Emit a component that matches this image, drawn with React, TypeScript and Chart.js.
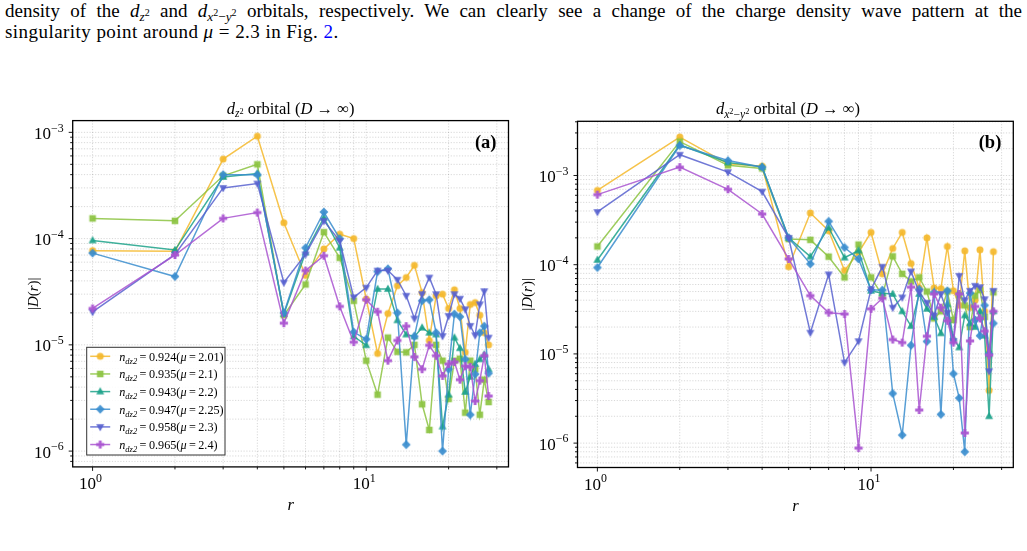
import React, { useEffect, useRef } from "react";
import { Chart, registerables } from "chart.js";

Chart.register(...registerables);

// lattice distance r (sites)
const rValues = [1, 2, 3, 4, 5, 6, 7, 8, 9, 10, 11, 12, 13, 14, 15, 16, 17, 18, 19, 20, 21, 22, 23, 24, 25, 26, 27, 28];

// |D(r)| for the d_{z^2} orbital, one list per chemical potential
const dz2Mu201 = [7.7e-5, 7.6e-5, 5.6e-4, 9.2e-4, 1.41e-4, 4.5e-5, 8.0e-5, 1.1e-4, 1.0e-4, 2.7e-5, 8.3e-6, 1.97e-5, 3.6e-5, 4.3e-5, 5.6e-5, 3.1e-5, 1.1e-5, 2.9e-5, 3.0e-5, 2.2e-5, 3.3e-5, 2.2e-5, 8.5e-6, 2.4e-5, 2.5e-5, 1.9e-5, 1.3e-5, 1.0e-5];
const dz2Mu210 = [1.55e-4, 1.47e-4, 3.9e-4, 5.0e-4, 1.9e-5, 3.7e-5, 1.15e-4, 6.6e-5, 2.6e-5, 7.1e-6, 3.4e-6, 1.17e-5, 8.6e-6, 8.5e-6, 1.0e-5, 2.76e-6, 1.58e-6, 1.0e-5, 7.1e-6, 3.1e-6, 7.1e-6, 7.4e-6, 2.3e-6, 7.1e-6, 5.9e-6, 2.2e-6, 4.7e-6, 2.9e-6];
const dz2Mu220 = [9.6e-5, 7.8e-5, 3.8e-4, 4.1e-4, 1.95e-5, 7.4e-5, 1.57e-4, 8.2e-5, 1.2e-5, 9.9e-6, 3.35e-5, 3.35e-5, 1.7e-5, 1.25e-5, 1.2e-5, 1.45e-5, 1.3e-5, 1.25e-5, 1.7e-6, 3.4e-6, 1.17e-5, 9.3e-6, 3.6e-6, 5.0e-6, 6.6e-6, 7.3e-6, 8.1e-6, 5.9e-6];
const dz2Mu225 = [7.3e-5, 4.4e-5, 4.0e-4, 4.0e-4, 2.0e-5, 8.2e-5, 1.78e-4, 1.0e-4, 1.32e-5, 1.13e-5, 4.9e-5, 5.2e-5, 2.0e-5, 1.15e-6, 1.2e-5, 2.6e-5, 2.66e-5, 1.3e-5, 1.0e-6, 5.9e-6, 1.95e-5, 1.84e-5, 7.3e-6, 2.2e-6, 5.3e-6, 1.3e-5, 1.5e-5, 5.4e-6];
const dz2Mu230 = [2.04e-5, 7.1e-5, 3.0e-4, 3.3e-4, 3.86e-5, 7.1e-5, 1.47e-4, 9.5e-5, 2.8e-5, 3.46e-5, 5.0e-5, 5.0e-5, 4.1e-5, 2.9e-5, 1.77e-5, 3.0e-5, 4.3e-5, 3.0e-5, 1.21e-5, 1.87e-5, 3.0e-5, 2.72e-5, 2.16e-5, 1.51e-5, 1.23e-5, 2.41e-5, 3.2e-5, 1.17e-5];
const dz2Mu240 = [2.2e-5, 7.0e-5, 1.55e-4, 1.76e-4, 1.6e-5, 5.0e-5, 6.9e-5, 2.3e-5, 1.06e-5, 2.66e-5, 2.05e-5, 7.1e-6, 1.1e-5, 1.5e-5, 7.7e-6, 5.9e-6, 9.9e-6, 7.9e-6, 5.1e-6, 6.6e-6, 6.9e-6, 4.7e-6, 6.3e-6, 6.2e-6, 2.96e-6, 4.6e-6, 7.9e-6, 3.3e-6];

// |D(r)| for the d_{x^2-y^2} orbital
const dx2Mu201 = [6.8e-4, 2.7e-3, 1.35e-3, 1.27e-3, 9.5e-5, 3.8e-4, 2.4e-4, 8.6e-5, 1.37e-4, 2.3e-4, 7.9e-5, 1.52e-4, 2.3e-4, 1.03e-4, 5.5e-5, 2.0e-4, 5.5e-5, 5.4e-5, 1.6e-4, 5.1e-5, 3.5e-5, 1.43e-4, 3.3e-5, 4.0e-5, 1.47e-4, 3.0e-5, 3.9e-6, 1.4e-4];
const dx2Mu210 = [1.6e-4, 2.4e-3, 1.3e-3, 1.2e-3, 1.94e-4, 1.9e-4, 1.23e-4, 7.2e-5, 1.68e-4, 7.2e-5, 4.5e-5, 1.24e-4, 7.9e-5, 6.5e-5, 7.2e-5, 5.0e-5, 2.5e-5, 3.0e-5, 5.0e-5, 2.4e-5, 4.6e-5, 3.5e-5, 2.0e-5, 4.5e-5, 5.2e-5, 2.6e-5, 1.0e-5, 4.9e-5];
const dx2Mu220 = [1.13e-4, 2.2e-3, 1.4e-3, 1.25e-3, 2.0e-4, 1.23e-4, 2.6e-4, 1.2e-4, 1.44e-4, 5.1e-5, 4.8e-5, 4.7e-5, 3.0e-5, 2.05e-5, 4.7e-5, 3.2e-5, 2.6e-5, 1.7e-5, 3.6e-5, 1.5e-5, 1.18e-5, 2.7e-5, 2.2e-5, 2.0e-5, 3.0e-5, 1.6e-5, 2.0e-6, 3.0e-5];
const dx2Mu225 = [9.3e-5, 2.17e-3, 1.47e-3, 1.24e-3, 2.0e-4, 1.02e-4, 3.06e-4, 1.56e-4, 1.16e-4, 5.2e-5, 5.2e-5, 3.6e-6, 1.23e-6, 1.25e-5, 5.3e-5, 1.38e-5, 4.9e-5, 2.1e-6, 5.1e-5, 6.0e-6, 3.2e-6, 8.0e-7, 4.8e-5, 2.4e-5, 1.6e-5, 3.5e-5, 1.0e-5, 2.2e-5];
const dx2Mu230 = [3.9e-4, 1.71e-3, 1.09e-3, 6.6e-4, 2.0e-4, 1.73e-5, 7.8e-5, 8.0e-6, 1.39e-5, 5.3e-5, 9.5e-5, 3.3e-5, 4.3e-5, 8.4e-5, 4.9e-5, 3.75e-5, 2.7e-5, 4.7e-5, 2.9e-5, 1.4e-5, 7.5e-5, 4.0e-5, 5.1e-5, 5.8e-5, 5.6e-5, 4.1e-5, 6.4e-6, 5.1e-5];
const dx2Mu240 = [6.1e-4, 1.24e-3, 7.0e-4, 3.7e-4, 1.16e-4, 4.5e-5, 2.9e-5, 2.8e-5, 8.8e-7, 3.2e-5, 4.2e-5, 1.45e-5, 1.34e-5, 5.6e-5, 2.35e-6, 1.58e-5, 4.7e-5, 3.3e-5, 2.35e-5, 1.34e-5, 4.7e-5, 1.3e-6, 1.4e-5, 3.4e-5, 2.5e-5, 1.8e-5, 9.7e-6, 3.0e-5];

// legend text pieces
const fillingLabels = ["0.924", "0.935", "0.943", "0.947", "0.958", "0.965"];
const muLabels = ["2.01", "2.1", "2.2", "2.25", "2.3", "2.4"];

const seriesColors = ["#F4B82C", "#8CC341", "#1CA28A", "#398DCE", "#5862CF", "#A954D0"];
const markerShapes = ["circle", "square", "triangleUp", "diamond", "triangleDown", "plus"];

// axis limits and tick positions
const xRange: [number, number] = [0.846, 33.1];
const yRangeZ2: [number, number] = [7.1e-7, 1.29e-3];
const yRangeX2Y2: [number, number] = [5.33e-7, 4.05e-3];
const xMajorTicks = [1, 10];
const xMinorTicks = [2, 3, 4, 5, 6, 7, 8, 9, 20, 30];
const yDecades = [-7, -6, -5, -4, -3, -2];
const yMantissas = [1, 2, 3, 4, 5, 6, 7, 8, 9];

const SERIF = '"Liberation Serif", "DejaVu Serif", serif';
const THIN = "\u2009";

type Seg = { t: string; it?: boolean; b?: boolean; k?: number; dy?: number };

function fontFor(s: Seg, size: number) {
  return `${s.it ? "italic " : ""}${s.b ? "bold " : ""}${(size * (s.k ?? 1)).toFixed(2)}px ${SERIF}`;
}

function richWidth(ctx: CanvasRenderingContext2D, segs: Seg[], size: number) {
  let w = 0;
  for (const s of segs) {
    ctx.font = fontFor(s, size);
    w += ctx.measureText(s.t).width;
  }
  return w;
}

function drawRich(ctx: CanvasRenderingContext2D, segs: Seg[], x: number, y: number, size: number, align: "left" | "center" | "right") {
  const w = richWidth(ctx, segs, size);
  let cx = align === "center" ? x - w / 2 : align === "right" ? x - w : x;
  ctx.textAlign = "left";
  ctx.textBaseline = "alphabetic";
  for (const s of segs) {
    ctx.font = fontFor(s, size);
    ctx.fillText(s.t, cx, y + (s.dy ?? 0) * size);
    cx += ctx.measureText(s.t).width;
  }
}

function rgba(hex: string, a: number) {
  const n = parseInt(hex.slice(1), 16);
  return `rgba(${(n >> 16) & 255},${(n >> 8) & 255},${n & 255},${a})`;
}

function makeMarker(shape: string, color: string): HTMLCanvasElement {
  const s = 12;
  const c = document.createElement("canvas");
  c.width = s;
  c.height = s;
  const g = c.getContext("2d")!;
  g.translate(s / 2, s / 2);
  g.fillStyle = rgba(color, 0.92);
  g.beginPath();
  if (shape === "circle") {
    g.arc(0, 0, 3.5, 0, Math.PI * 2);
  } else if (shape === "square") {
    g.rect(-3.3, -3.3, 6.6, 6.6);
  } else if (shape === "triangleUp") {
    g.moveTo(0, -4.4);
    g.lineTo(4, 2.8);
    g.lineTo(-4, 2.8);
    g.closePath();
  } else if (shape === "triangleDown") {
    g.moveTo(0, 4.4);
    g.lineTo(4, -2.8);
    g.lineTo(-4, -2.8);
    g.closePath();
  } else if (shape === "diamond") {
    g.moveTo(0, -4.4);
    g.lineTo(4.4, 0);
    g.lineTo(0, 4.4);
    g.lineTo(-4.4, 0);
    g.closePath();
  } else {
    const a = 1.45;
    const l = 4.1;
    g.moveTo(-a, -l);
    g.lineTo(a, -l);
    g.lineTo(a, -a);
    g.lineTo(l, -a);
    g.lineTo(l, a);
    g.lineTo(a, a);
    g.lineTo(a, l);
    g.lineTo(-a, l);
    g.lineTo(-a, a);
    g.lineTo(-l, a);
    g.lineTo(-l, -a);
    g.lineTo(-a, -a);
    g.closePath();
  }
  g.fill();
  return c;
}

function powerLabel(exp: number): Seg[] {
  const e = exp < 0 ? "\u2212" + Math.abs(exp) : String(exp);
  return [{ t: "10" }, { t: e, k: 0.7, dy: -0.42 }];
}

interface PanelSpec {
  left: number;
  top: number;
  width: number;
  height: number;
  area: { left: number; top: number; right: number; bottom: number };
  yRange: [number, number];
  series: number[][];
  title: Seg[];
  titleCx: number;
  tag: string;
  yLabelCx: number;
  legend?: { x: number; y: number; w: number; h: number };
}

function makePanelPlugin(spec: PanelSpec, markers: HTMLCanvasElement[]) {
  const yGrid: number[] = [];
  for (const d of yDecades) for (const m of yMantissas) yGrid.push(m * Math.pow(10, d));
  const yMajor = yDecades.map((d) => Math.pow(10, d));
  return {
    id: "panelDecor",
    beforeDatasetsDraw(chart: any) {
      const { ctx, chartArea: a, scales } = chart;
      const xs = scales.x;
      const ys = scales.y;
      ctx.save();
      ctx.strokeStyle = "rgba(0,0,0,0.2)";
      ctx.lineWidth = 0.8;
      ctx.setLineDash([1.2, 1.6]);
      for (const v of [...xMajorTicks, ...xMinorTicks]) {
        const px = xs.getPixelForValue(v);
        if (px <= a.left || px >= a.right) continue;
        ctx.beginPath();
        ctx.moveTo(px, a.top);
        ctx.lineTo(px, a.bottom);
        ctx.stroke();
      }
      for (const v of yGrid) {
        if (v < spec.yRange[0] || v > spec.yRange[1]) continue;
        const py = ys.getPixelForValue(v);
        ctx.beginPath();
        ctx.moveTo(a.left, py);
        ctx.lineTo(a.right, py);
        ctx.stroke();
      }
      ctx.restore();
    },
    afterDatasetsDraw(chart: any) {
      const { ctx, chartArea: a, scales } = chart;
      const xs = scales.x;
      const ys = scales.y;
      ctx.save();
      ctx.setLineDash([]);
      // frame
      ctx.strokeStyle = "#000";
      ctx.lineWidth = 1.3;
      ctx.strokeRect(a.left, a.top, a.right - a.left, a.bottom - a.top);
      // tick marks
      ctx.lineWidth = 0.9;
      for (const v of [...xMajorTicks, ...xMinorTicks]) {
        const px = xs.getPixelForValue(v);
        if (px < a.left || px > a.right) continue;
        const len = xMajorTicks.includes(v) ? 4 : 2.5;
        ctx.beginPath();
        ctx.moveTo(px, a.bottom);
        ctx.lineTo(px, a.bottom + len);
        ctx.stroke();
      }
      for (const v of yGrid) {
        if (v < spec.yRange[0] || v > spec.yRange[1]) continue;
        const py = ys.getPixelForValue(v);
        const len = yMajor.some((m) => Math.abs(m - v) / m < 1e-9) ? 4 : 2.5;
        ctx.beginPath();
        ctx.moveTo(a.left, py);
        ctx.lineTo(a.left - len, py);
        ctx.stroke();
      }
      // tick labels
      ctx.fillStyle = "#000";
      for (const v of xMajorTicks) {
        const px = xs.getPixelForValue(v);
        drawRich(ctx, powerLabel(Math.round(Math.log10(v))), px - 2, a.bottom + 22, 17, "center");
      }
      for (const d of yDecades) {
        const v = Math.pow(10, d);
        if (v < spec.yRange[0] || v > spec.yRange[1]) continue;
        const py = ys.getPixelForValue(v);
        drawRich(ctx, powerLabel(d), a.left - 9, py + 6.5, 17, "right");
      }
      // axis titles
      const cx = (a.left + a.right) / 2;
      drawRich(ctx, [{ t: "r", it: true }], cx, a.bottom + 43, 16.5, "center");
      ctx.save();
      ctx.translate(spec.yLabelCx, (a.top + a.bottom) / 2);
      ctx.rotate(-Math.PI / 2);
      drawRich(
        ctx,
        [{ t: "|" }, { t: "D", it: true }, { t: "(" }, { t: "r", it: true }, { t: ")|" }],
        0,
        5,
        15,
        "center"
      );
      ctx.restore();
      // panel title
      drawRich(ctx, spec.title, spec.titleCx, a.top - 7, 16.5, "center");
      // panel tag
      drawRich(ctx, [{ t: spec.tag, b: true }], a.right - 12, a.top + 27, 18.5, "right");
      // legend
      if (spec.legend) {
        const L = spec.legend;
        ctx.fillStyle = "rgba(255,255,255,0.85)";
        ctx.fillRect(L.x, L.y, L.w, L.h);
        ctx.strokeStyle = "#333";
        ctx.lineWidth = 1;
        ctx.strokeRect(L.x, L.y, L.w, L.h);
        for (let i = 0; i < fillingLabels.length; i++) {
          const yy = L.y + 9 + i * 17.65;
          ctx.strokeStyle = rgba(seriesColors[i], 0.85);
          ctx.lineWidth = 1.5;
          ctx.beginPath();
          ctx.moveTo(L.x + 3.5, yy);
          ctx.lineTo(L.x + 23.5, yy);
          ctx.stroke();
          ctx.drawImage(markers[i], L.x + 13.5 - 6, yy - 6);
          ctx.fillStyle = "#000";
          drawRich(
            ctx,
            [
              { t: "n", it: true },
              { t: "dz2", it: true, k: 0.7, dy: 0.25 },
              { t: THIN + "=" + THIN + fillingLabels[i] + "(" },
              { t: "\u03bc", it: true },
              { t: THIN + "=" + THIN + muLabels[i] + ")" },
            ],
            L.x + 32.5,
            yy + 4.3,
            12.2,
            "left"
          );
        }
      }
      ctx.restore();
    },
  };
}

function OrbitalPanel({ spec }: { spec: PanelSpec }) {
  const ref = useRef<HTMLCanvasElement>(null);
  useEffect(() => {
    const markers = markerShapes.map((s, i) => makeMarker(s, seriesColors[i]));
    const chart = new Chart(ref.current!, {
      type: "line",
      data: {
        datasets: spec.series.map((vals, i) => ({
          label: `n=${fillingLabels[i]}`,
          data: rValues.map((r, j) => ({ x: r, y: vals[j] })),
          borderColor: rgba(seriesColors[i], 0.85),
          backgroundColor: seriesColors[i],
          borderWidth: 1.5,
          pointStyle: markers[i] as any,
          pointRadius: 4,
          pointHoverRadius: 4,
          tension: 0,
          fill: false,
          order: spec.series.length - i,
        })),
      },
      options: {
        responsive: false,
        animation: false,
        events: [],
        layout: {
          padding: { top: spec.area.top, left: 0, right: spec.width - spec.area.right, bottom: 0 },
        },
        plugins: { legend: { display: false }, tooltip: { enabled: false }, title: { display: false } },
        scales: {
          x: {
            type: "logarithmic",
            min: xRange[0],
            max: xRange[1],
            bounds: "data",
            grid: { display: false },
            ticks: { display: false },
            border: { display: false },
            afterFit: (s: any) => {
              s.height = spec.height - spec.area.bottom;
            },
          },
          y: {
            type: "logarithmic",
            min: spec.yRange[0],
            max: spec.yRange[1],
            bounds: "data",
            grid: { display: false },
            ticks: { display: false },
            border: { display: false },
            afterFit: (s: any) => {
              s.width = spec.area.left;
            },
          },
        },
      } as any,
      plugins: [makePanelPlugin(spec, markers)],
    });
    return () => chart.destroy();
  }, []);
  return (
    <canvas
      ref={ref}
      width={spec.width}
      height={spec.height}
      style={{ position: "absolute", left: spec.left, top: spec.top, width: spec.width, height: spec.height }}
    />
  );
}

const panelZ2: PanelSpec = {
  left: 0,
  top: 90,
  width: 520,
  height: 440,
  area: { left: 72.7, top: 30.6, right: 508.5, bottom: 376.9 },
  yRange: yRangeZ2,
  series: [dz2Mu201, dz2Mu210, dz2Mu220, dz2Mu225, dz2Mu230, dz2Mu240],
  title: [
    { t: "d", it: true },
    { t: "z", it: true, k: 0.7, dy: 0.22 },
    { t: "2", k: 0.5, dy: 0.0 },
    { t: " orbital (" },
    { t: "D", it: true },
    { t: " \u2192 \u221e)" },
  ],
  titleCx: 290.6,
  tag: "(a)",
  yLabelCx: 33,
  legend: { x: 86.7, y: 257.3, w: 138.3, h: 107.7 },
};

const panelX2Y2: PanelSpec = {
  left: 505,
  top: 90,
  width: 522,
  height: 440,
  area: { left: 72.5, top: 31.3, right: 508.3, bottom: 377.5 },
  yRange: yRangeX2Y2,
  series: [dx2Mu201, dx2Mu210, dx2Mu220, dx2Mu225, dx2Mu230, dx2Mu240],
  title: [
    { t: "d", it: true },
    { t: "x", it: true, k: 0.7, dy: 0.22 },
    { t: "2", k: 0.5, dy: 0.0 },
    { t: "\u2212", k: 0.7, dy: 0.22 },
    { t: "y", it: true, k: 0.7, dy: 0.22 },
    { t: "2", k: 0.5, dy: 0.0 },
    { t: " orbital (" },
    { t: "D", it: true },
    { t: " \u2192 \u221e)" },
  ],
  titleCx: 283,
  tag: "(b)",
  yLabelCx: 22,
};

const subStyle: React.CSSProperties = { fontSize: "0.7em", position: "relative", top: "0.3em", lineHeight: 0 };
const supStyle: React.CSSProperties = { fontSize: "0.75em", position: "relative", top: "-0.55em", lineHeight: 0 };

export default function App() {
  return (
    <div
      style={{
        position: "absolute",
        left: 0,
        top: 0,
        width: 1027,
        height: 551,
        background: "#fff",
        overflow: "hidden",
        fontFamily: SERIF,
        color: "#000",
      }}
    >
      <div
        style={{
          position: "absolute",
          left: 5,
          top: 0,
          width: 1017,
          fontSize: 19,
          lineHeight: "21px",
          textAlign: "justify",
          textAlignLast: "justify",
        }}
      >
        density of the <i>d</i>
        <span style={subStyle}>
          <i>z</i>
          <span style={supStyle}>2</span>
        </span>{" "}
        and <i>d</i>
        <span style={subStyle}>
          <i>x</i>
          <span style={supStyle}>2</span>−<i>y</i>
          <span style={supStyle}>2</span>
        </span>{" "}
        orbitals, respectively. We can clearly see a change of the charge density wave pattern at the
      </div>
      <div
        style={{
          position: "absolute",
          left: 5,
          top: 21,
          fontSize: 19,
          lineHeight: "21px",
          whiteSpace: "nowrap",
          letterSpacing: "0.45px",
        }}
      >
        singularity point around <i>μ</i> = 2.3 in Fig. <span style={{ color: "#0000ff" }}>2</span>.
      </div>
      <OrbitalPanel spec={panelZ2} />
      <OrbitalPanel spec={panelX2Y2} />
    </div>
  );
}
